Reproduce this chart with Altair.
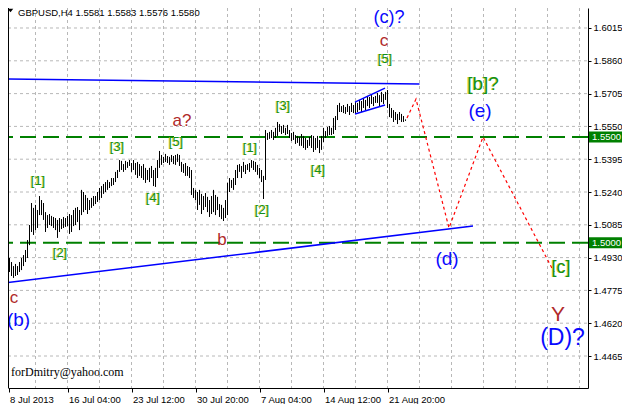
import altair as alt
import pandas as pd

# ---------------- data ----------------
high = [
1.4966,1.4975,1.4942,1.4928,1.4909,1.4890,1.4900,1.4890,1.4909,1.4928,
1.4942,1.4966,1.5013,1.5084,1.5188,1.5165,1.5179,1.5155,1.5221,1.5202,
1.5188,1.5145,1.5131,1.5136,1.5127,1.5122,1.5117,1.5108,1.5117,1.5112,
1.5122,1.5117,1.5127,1.5136,1.5131,1.5155,1.5165,1.5169,1.5155,1.5250,
1.5240,1.5226,1.5212,1.5202,1.5212,1.5221,1.5221,1.5240,1.5259,1.5268,
1.5278,1.5287,1.5297,1.5287,1.5306,1.5306,1.5335,1.5344,1.5391,1.5387,
1.5372,1.5387,1.5382,1.5391,1.5377,1.5391,1.5377,1.5382,1.5372,1.5363,
1.5372,1.5354,1.5344,1.5354,1.5363,1.5344,1.5354,1.5391,1.5434,1.5415,
1.5406,1.5420,1.5410,1.5406,1.5415,1.5410,1.5415,1.5420,1.5415,1.5382,
1.5372,1.5377,1.5363,1.5358,1.5344,1.5259,1.5250,1.5240,1.5250,1.5231,
1.5221,1.5235,1.5217,1.5202,1.5221,1.5250,1.5226,1.5217,1.5183,1.5179,
1.5165,1.5202,1.5283,1.5306,1.5297,1.5306,1.5344,1.5368,1.5372,1.5363,
1.5382,1.5368,1.5372,1.5377,1.5391,1.5387,1.5382,1.5368,1.5354,1.5344,
1.5316,1.5533,1.5519,1.5524,1.5533,1.5524,1.5543,1.5571,1.5561,1.5552,
1.5557,1.5543,1.5557,1.5533,1.5519,1.5524,1.5509,1.5505,1.5500,1.5514,
1.5505,1.5495,1.5486,1.5500,1.5509,1.5505,1.5495,1.5505,1.5486,1.5505,
1.5543,1.5528,1.5547,1.5552,1.5543,1.5590,1.5599,1.5651,1.5661,1.5646,
1.5651,1.5642,1.5656,1.5646,1.5661,1.5651,1.5665,1.5661,1.5675,1.5670,
1.5684,1.5675,1.5694,1.5689,1.5698,1.5689,1.5694,1.5708,1.5698,1.5713,
1.5703,1.5713,1.5722,1.5656,1.5637,1.5627,1.5618,1.5609,1.5618,1.5609,
1.5599,1.5583]

low = [
1.4928,1.4909,1.4895,1.4862,1.4843,1.4834,1.4843,1.4848,1.4862,1.4871,
1.4890,1.4909,1.4928,1.4989,1.5051,1.5037,1.5060,1.5070,1.5131,1.5131,
1.5108,1.5051,1.5070,1.5084,1.5079,1.5070,1.5060,1.5023,1.5051,1.5065,
1.5070,1.5075,1.5079,1.5042,1.5051,1.5079,1.5084,1.5098,1.5060,1.5131,
1.5145,1.5155,1.5136,1.5155,1.5165,1.5174,1.5183,1.5193,1.5202,1.5212,
1.5231,1.5240,1.5250,1.5259,1.5268,1.5273,1.5287,1.5306,1.5335,1.5344,
1.5335,1.5344,1.5354,1.5363,1.5335,1.5344,1.5321,1.5306,1.5316,1.5306,
1.5297,1.5283,1.5297,1.5287,1.5306,1.5268,1.5264,1.5306,1.5354,1.5368,
1.5377,1.5382,1.5377,1.5368,1.5382,1.5372,1.5368,1.5382,1.5363,1.5335,
1.5330,1.5316,1.5316,1.5306,1.5226,1.5212,1.5202,1.5155,1.5179,1.5136,
1.5155,1.5169,1.5145,1.5122,1.5136,1.5145,1.5131,1.5155,1.5122,1.5112,
1.5103,1.5117,1.5131,1.5240,1.5259,1.5250,1.5273,1.5306,1.5335,1.5306,
1.5335,1.5325,1.5344,1.5335,1.5354,1.5344,1.5335,1.5321,1.5306,1.5287,
1.5207,1.5297,1.5486,1.5491,1.5495,1.5486,1.5495,1.5505,1.5524,1.5514,
1.5519,1.5509,1.5514,1.5495,1.5481,1.5486,1.5467,1.5472,1.5458,1.5458,
1.5448,1.5439,1.5448,1.5458,1.5448,1.5429,1.5439,1.5448,1.5424,1.5439,
1.5476,1.5495,1.5505,1.5509,1.5509,1.5514,1.5533,1.5580,1.5618,1.5618,
1.5613,1.5609,1.5618,1.5604,1.5618,1.5613,1.5609,1.5618,1.5627,1.5618,
1.5637,1.5627,1.5646,1.5637,1.5656,1.5646,1.5661,1.5661,1.5646,1.5665,
1.5656,1.5675,1.5637,1.5594,1.5590,1.5571,1.5580,1.5561,1.5580,1.5571,
1.5571,1.5576]

y_ticks = [1.4465, 1.4620, 1.4775, 1.4930, 1.5085, 1.5240,
           1.5395, 1.5550, 1.5705, 1.5860, 1.6015]
x_label_bars = [2.5, 32, 64, 96, 128, 160, 192]
x_label_text = ["8 Jul 2013", "16 Jul 04:00", "23 Jul 12:00", "30 Jul 20:00",
                "7 Aug 04:00", "14 Aug 12:00", "21 Aug 20:00"]
x_grid_bars = list(range(16, 289, 16))
levels = [1.5500, 1.5000]
level_text = ["1.5500", "1.5000"]

# trend lines (bar index, price)
top_line_bar = [0, 208];          top_line_price = [1.5774, 1.5750]
support_bar = [0, 234.75];        support_price = [1.4810, 1.5079]
wedge_up_bar = [175.75, 190.75];  wedge_up_price = [1.5665, 1.5731]
wedge_dn_bar = [175.75, 190.75];  wedge_dn_price = [1.5609, 1.5651]
forecast_bar = [201.75, 206.25, 222.75, 239.75, 275.25]
forecast_price = [1.5590, 1.5679, 1.5070, 1.5500, 1.4862]

# wave labels
label_text = ["(c)?", "c", "[5]", "[b]?", "(e)", "a?", "[5]", "[3]", "[4]", "[1]", "[2]",
              "[1]", "[2]", "b", "[4]", "[3]", "(d)", "c", "(b)", "[c]", "Y", "(D)?"]
label_bar = [192.75, 190.25, 190.75, 239.75, 238.25, 89.25, 86.25, 56.75, 74.75, 17.25, 28.25,
             123.25, 129.25, 109.25, 157.25, 139.75, 221.75, 5.25, 7.5, 278.75, 277.25, 279.5]
label_price = [1.6062, 1.5954, 1.5868, 1.5750, 1.5623, 1.5576, 1.5476, 1.5453, 1.5212, 1.5292, 1.4952,
               1.5448, 1.5155, 1.5013, 1.5344, 1.5646, 1.4923, 1.4739, 1.4635, 1.4881, 1.4659, 1.4550]
label_kind = ["blue", "red", "green", "green", "blue", "red", "green", "green", "green", "green", "green",
              "green", "green", "red", "green", "green", "blue", "red", "blue", "green", "red", "blue"]
label_size = [18, 17, 13, 19, 19, 17, 13, 13, 13, 13, 13,
              13, 13, 17, 13, 13, 19, 17, 19, 18, 21, 23]

title_text = "GBPUSD,H4  1.5581 1.5583 1.5576 1.5580"
email_text = "forDmitry@yahoo.com"

# ---------------- chart ----------------
FONT = "Liberation Sans"
GRID = "#b8b8b8"
W, H = 580, 380
xs = alt.Scale(domain=[2.25, 2.25 + W / 2], nice=False, zero=False)
ys = alt.Scale(domain=[1.43138, 1.61095], nice=False, zero=False)

label_expr = " : ".join(
    f"abs(datum.value - {b}) < 0.5 ? '{t}'" for b, t in zip(x_label_bars, x_label_text)) + " : ''"

x_axis = alt.Axis(values=x_label_bars, labelExpr=label_expr, grid=False, title=None,
                  tickSize=4, tickColor="black", domainColor="black", labelColor="black",
                  labelAlign="left", labelBaseline="top", labelPadding=2.5, labelOffset=1,
                  labelFont=FONT, labelFontSize=9.5, labelFlush=False, labelOverlap=False)
y_axis = alt.Axis(values=y_ticks, format=".4f", orient="right", title=None, grid=False,
                  tickSize=3, tickColor="black", domainColor="black", labelColor="black",
                  labelPadding=2, labelFont=FONT, labelFontSize=9.5, labelFlush=False,
                  labelOverlap=False, labelBaseline="middle")


def X(f):
    return alt.X(f"{f}:Q", scale=xs, axis=x_axis)


def Y(f):
    return alt.Y(f"{f}:Q", scale=ys, axis=y_axis)


n = min(len(high), len(low))
bars_df = pd.DataFrame({"bar": list(range(n)), "low": low[:n], "high": high[:n]})
grid_df = pd.DataFrame({"gx": x_grid_bars})
hgrid_df = pd.DataFrame({"gy": y_ticks})
lev_df = pd.DataFrame({"price": levels, "txt": level_text,
                       "lo": [p - 0.0026 for p in levels], "hi": [p + 0.0026 for p in levels]})

blue_df = pd.DataFrame({
    "bar": top_line_bar + support_bar + wedge_up_bar + wedge_dn_bar,
    "price": top_line_price + support_price + wedge_up_price + wedge_dn_price,
    "line": ["top"] * 2 + ["sup"] * 2 + ["wu"] * 2 + ["wd"] * 2,
})
fc_df = pd.DataFrame({"bar": forecast_bar, "price": forecast_price, "ord": list(range(len(forecast_bar)))})

color_map = {"blue": "#0a0aff", "red": "#b02a2a", "green": "#12901a"}
lab_df = pd.DataFrame({"text": label_text, "bar": label_bar, "price": label_price,
                       "col": [color_map[k] for k in label_kind], "size": label_size,
                       "kind": label_kind})
green_df = lab_df[lab_df["kind"] == "green"]

vgrid = alt.Chart(grid_df).mark_rule(color=GRID, strokeDash=[3, 3], strokeWidth=1).encode(
    x=X("gx"), y=alt.value(0), y2=alt.value(H))
hgrid = alt.Chart(hgrid_df).mark_rule(color=GRID, strokeDash=[3, 3], strokeWidth=1).encode(
    y=Y("gy"), x=alt.value(0), x2=alt.value(W))

hlev = alt.Chart(lev_df).mark_rule(color="#008000", strokeDash=[16, 7], strokeWidth=2).encode(y=Y("price"))

bars = alt.Chart(bars_df).mark_rule(color="black", strokeWidth=1, clip=True).encode(
    x=X("bar"), y=Y("low"), y2=alt.Y2("high"))

blue = alt.Chart(blue_df).mark_line(color="#0000ff", strokeWidth=1.5, clip=True).encode(
    x=X("bar"), y=Y("price"), detail="line:N")

fc = alt.Chart(fc_df).mark_line(color="#ff0000", strokeDash=[3, 3], strokeWidth=1.2).encode(
    x=X("bar"), y=Y("price"), order="ord:Q")

shadow = alt.Chart(green_df).mark_text(font=FONT, baseline="middle", align="center",
                                       dx=-0.8, color="#c8c800", opacity=0.8).encode(
    x=X("bar"), y=Y("price"), text="text:N", size=alt.Size("size:Q", scale=None, legend=None))

labels = alt.Chart(lab_df).mark_text(font=FONT, baseline="middle", align="center").encode(
    x=X("bar"), y=Y("price"), text="text:N",
    color=alt.Color("col:N", scale=None, legend=None),
    size=alt.Size("size:Q", scale=None, legend=None))

tag_box = alt.Chart(lev_df).mark_rect(color="#008000").encode(
    x=alt.value(W + 1), x2=alt.value(W + 34), y=Y("lo"), y2=alt.Y2("hi"))
tag_txt = alt.Chart(lev_df).mark_text(font=FONT, fontSize=9.5, color="white", align="left",
                                      baseline="middle").encode(
    x=alt.value(W + 4), y=Y("price"), text="txt:N")

frame = alt.Chart(pd.DataFrame({"v": [0]})).mark_rule(color="black", strokeWidth=1).encode(
    x=alt.value(0.5), y=alt.value(0), y2=alt.value(H))

title = alt.Chart(pd.DataFrame({"t": [title_text]})).mark_text(
    font=FONT, fontSize=9.5, color="black", align="left", baseline="alphabetic").encode(
    x=alt.value(10), y=alt.value(7.5), text="t:N")

tri = alt.Chart(pd.DataFrame({"v": [0]})).mark_point(
    shape="M-1,-0.6L1,-0.6L0,0.6Z", filled=True, color="black", size=30, opacity=1).encode(
    x=alt.value(2.5), y=alt.value(2.5))

email = alt.Chart(pd.DataFrame({"t": [email_text]})).mark_text(
    font="Liberation Serif", fontSize=12, color="black", align="left", baseline="alphabetic").encode(
    x=alt.value(3), y=alt.value(368), text="t:N")

chart = alt.layer(vgrid, hgrid, hlev, bars, blue, fc, shadow, labels, tag_box, tag_txt,
                  frame, title, tri, email).properties(
    width=W, height=H,
    padding={"left": 0, "top": 0, "right": 34, "bottom": 16},
    autosize=alt.AutoSizeParams(type="none"),
    background="white",
).configure_view(stroke=None)

chart.save("out.html", embed_options={"renderer": "svg", "actions": False})
